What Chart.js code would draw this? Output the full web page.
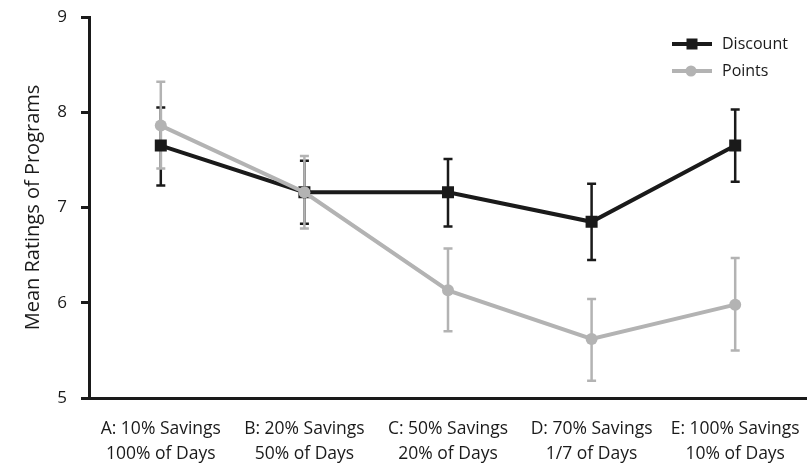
<!DOCTYPE html>
<html>
<head>
<meta charset="utf-8">
<script src="https://cdn.jsdelivr.net/npm/chart.js@4.4.1/dist/chart.umd.min.js"></script>
<style>
  html, body { margin: 0; padding: 0; background: #ffffff; }
  #wrap { width: 807px; height: 463px; }
</style>
</head>
<body>
<div id="wrap"><canvas id="chart" width="807" height="463"></canvas></div>
<script>
// Program conditions (two-line category labels)
const categories = [
  ['A: 10% Savings', '100% of Days'],
  ['B: 20% Savings', '50% of Days'],
  ['C: 50% Savings', '20% of Days'],
  ['D: 70% Savings', '1/7 of Days'],
  ['E: 100% Savings', '10% of Days']
];

// Mean ratings and error-bar bounds per framing
const discountMeans = [7.65, 7.16, 7.16, 6.85, 7.65];
const discountLow   = [7.23, 6.83, 6.80, 6.45, 7.27];
const discountHigh  = [8.05, 7.49, 7.51, 7.25, 8.03];

const pointsMeans = [7.86, 7.16, 6.13, 5.62, 5.98];
const pointsLow   = [7.41, 6.78, 5.70, 5.18, 5.50];
const pointsHigh  = [8.32, 7.54, 6.57, 6.04, 6.47];

const yTicks = [5, 6, 7, 8, 9];

const BLACK = '#1a1a1a';
const GREY = '#b3b3b3';
const FONT = "'Open Sans', 'DejaVu Sans', sans-serif";

// Vertical error bars with caps, drawn beneath lines and markers
const errorBars = {
  id: 'errorBars',
  beforeDatasetsDraw(chart) {
    const { ctx, scales: { x, y } } = chart;
    const sets = [
      { low: discountLow, high: discountHigh, color: BLACK },
      { low: pointsLow, high: pointsHigh, color: GREY }
    ];
    ctx.save();
    ctx.lineWidth = 2.5;
    sets.forEach(s => {
      ctx.strokeStyle = s.color;
      s.low.forEach((lo, i) => {
        const px = x.getPixelForValue(i);
        const yl = y.getPixelForValue(lo);
        const yh = y.getPixelForValue(s.high[i]);
        ctx.beginPath();
        ctx.moveTo(px, yh); ctx.lineTo(px, yl);
        ctx.moveTo(px - 4.5, yh); ctx.lineTo(px + 4.5, yh);
        ctx.moveTo(px - 4.5, yl); ctx.lineTo(px + 4.5, yl);
        ctx.stroke();
      });
    });
    ctx.restore();
  }
};

// Legend with a line-and-marker sample for each series
const lineLegend = {
  id: 'lineLegend',
  afterDraw(chart) {
    const { ctx } = chart;
    const items = [
      { label: 'Discount', color: BLACK, style: 'rect', y: 44 },
      { label: 'Points', color: GREY, style: 'circle', y: 71 }
    ];
    ctx.save();
    items.forEach(it => {
      ctx.strokeStyle = it.color;
      ctx.fillStyle = it.color;
      ctx.lineWidth = 4;
      ctx.beginPath();
      ctx.moveTo(672, it.y); ctx.lineTo(712, it.y);
      ctx.stroke();
      if (it.style === 'rect') {
        ctx.fillRect(692 - 5.5, it.y - 5.5, 11, 11);
      } else {
        ctx.beginPath();
        ctx.arc(691, it.y, 5.5, 0, Math.PI * 2);
        ctx.fill();
      }
      ctx.fillStyle = '#1a1a1a';
      ctx.font = '16px ' + FONT;
      ctx.textBaseline = 'middle';
      ctx.textAlign = 'left';
      ctx.fillText(it.label, 722, it.y);
    });
    ctx.restore();
  }
};

new Chart(document.getElementById('chart'), {
  type: 'line',
  data: {
    labels: categories,
    datasets: [
      {
        label: 'Discount',
        data: discountMeans,
        borderColor: BLACK,
        backgroundColor: BLACK,
        borderWidth: 4,
        pointStyle: 'rect',
        pointRadius: 8.5,
        pointBorderWidth: 0,
        tension: 0,
        order: 2
      },
      {
        label: 'Points',
        data: pointsMeans,
        borderColor: GREY,
        backgroundColor: GREY,
        borderWidth: 4,
        pointStyle: 'circle',
        pointRadius: 6,
        pointBorderWidth: 0,
        tension: 0,
        order: 1
      }
    ]
  },
  options: {
    responsive: false,
    animation: false,
    layout: { autoPadding: false, padding: { top: 17, right: 0, left: 0, bottom: 0 } },
    plugins: {
      legend: { display: false },
      tooltip: { enabled: false }
    },
    scales: {
      x: {
        offset: true,
        grid: { display: true, drawOnChartArea: false, drawTicks: false },
        border: { display: true, color: BLACK, width: 3 },
        ticks: {
          color: '#1a1a1a',
          font: { family: FONT, size: 17.5, lineHeight: 1.4 },
          padding: 19,
          maxRotation: 0,
          autoSkip: false
        },
        afterFit(scale) {
          scale.height = 65;
          scale.paddingLeft = 0;
          scale.paddingRight = 0;
        }
      },
      y: {
        min: 5,
        max: 9,
        afterBuildTicks(scale) { scale.ticks = yTicks.map(v => ({ value: v })); },
        grid: { drawOnChartArea: false, drawTicks: true, tickLength: 8, tickColor: BLACK, tickWidth: 3 },
        border: { display: true, color: BLACK, width: 3 },
        ticks: {
          color: '#1a1a1a',
          font: { family: FONT, size: 17 },
          padding: 14
        },
        title: {
          display: true,
          text: 'Mean Ratings of Programs',
          color: '#1a1a1a',
          font: { family: FONT, size: 20 },
          padding: { top: 21, bottom: 0 }
        },
        afterFit(scale) {
          scale.width = 89;
          scale.paddingTop = 0;
          scale.paddingBottom = 0;
        }
      }
    }
  },
  plugins: [errorBars, lineLegend]
});
</script>
</body>
</html>
